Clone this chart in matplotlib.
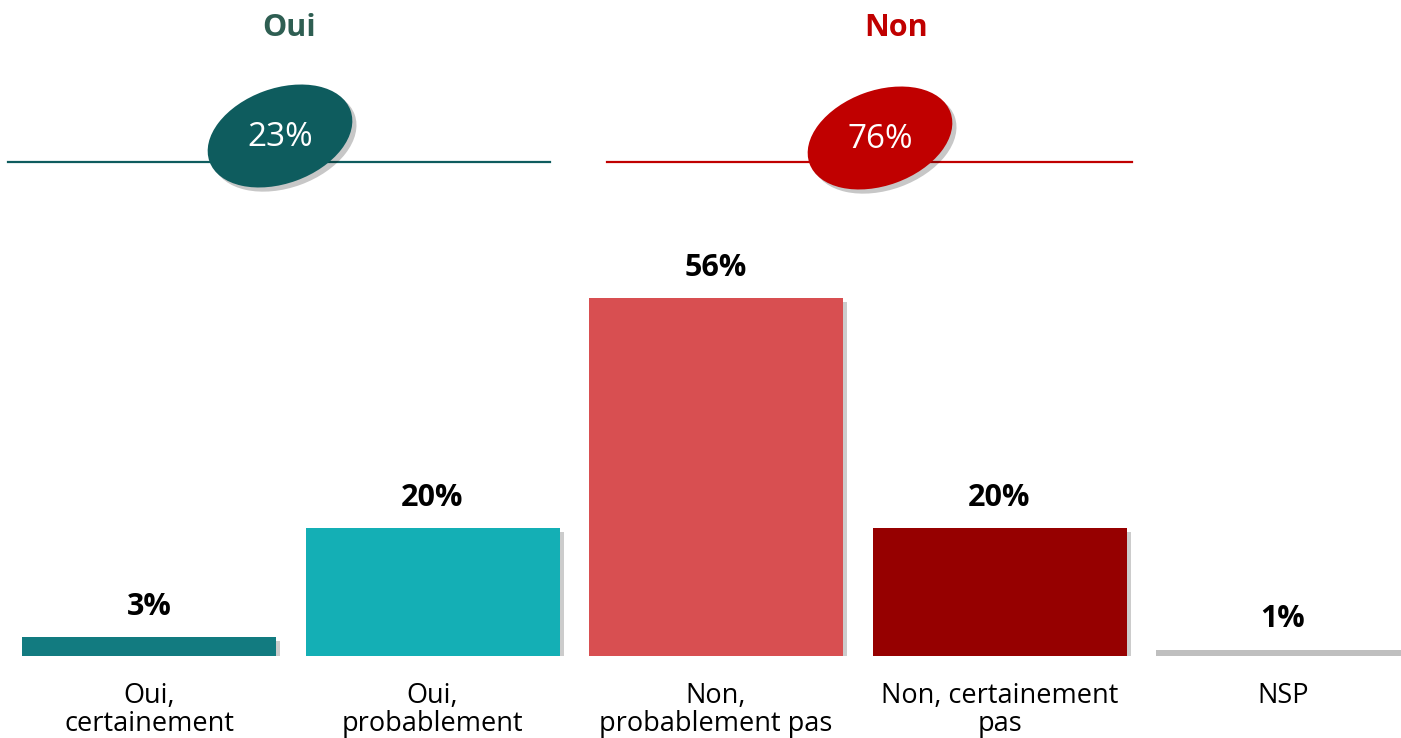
import matplotlib.pyplot as plt
from matplotlib.patches import Ellipse
import matplotlib.patheffects as pe

categories = ['Oui,\ncertainement', 'Oui,\nprobablement', 'Non,\nprobablement pas',
              'Non, certainement\npas', 'NSP']
values = [3, 20, 56, 20, 1]
colors = ['#127B80', '#14AFB5', '#D84F51', '#960000', '#BFBFBF']

groups = ['Oui', 'Non']
group_totals = [23, 76]
group_colors = ['#0E5C5E', '#C00000']
group_title_colors = ['#2E5E52', '#C00000']

plt.rcParams['font.family'] = ['Open Sans', 'DejaVu Sans']

fig = plt.figure(figsize=(14.01, 7.38), dpi=100)

# bar axes: baseline at y=656 px
ax = fig.add_axes([0, 82 / 738, 1, 656 / 738])
ax.patch.set_visible(False)
x = range(len(values))
shadow = [pe.SimplePatchShadow(offset=(3, -3), shadow_rgbFace='#000000', alpha=0.2), pe.Normal()]
bars = ax.bar(x, values, width=0.896, color=colors, zorder=2)
for b in bars:
    b.set_path_effects(shadow)
for i, v in enumerate(values):
    ax.annotate(f'{v}%', (i, v), xytext=(0, 16), textcoords='offset points',
                ha='center', va='baseline', fontsize=22, fontweight='bold', color='black')
ax.set_xlim(-0.5256, 4.416)
ax.set_ylim(0, 102.7)
ax.set_xticks(list(x))
ax.set_xticklabels(categories, fontsize=19.5, linespacing=0.98)
ax.tick_params(axis='x', length=0, pad=19)
ax.set_yticks([])
for s in ax.spines.values():
    s.set_visible(False)

# header overlay in pixel coords (y inverted)
ov = fig.add_axes([0, 0, 1, 1])
ov.patch.set_visible(False)
ov.set_xlim(0, 1401)
ov.set_ylim(738, 0)
ov.axis('off')
line_spans = [(8, 550), (607, 1132)]
centers = [(280, 136), (880, 138)]
title_x = [289, 896]
for g, tot, c, tc, span, cen, tx in zip(groups, group_totals, group_colors,
                                         group_title_colors, line_spans, centers, title_x):
    ov.plot(span, [162, 162], color=c, lw=1.6, zorder=1)
    e = Ellipse(cen, 150, 95, angle=-20, facecolor=c, edgecolor='none', zorder=2)
    e.set_path_effects([pe.SimplePatchShadow(offset=(3, -3), shadow_rgbFace='#000000', alpha=0.22),
                        pe.Normal()])
    ov.add_patch(e)
    ov.text(cen[0], cen[1] + 2, f'{tot}%', ha='center', va='center', fontsize=24,
            color='white', zorder=3)
    ov.text(tx, 28, g, ha='center', va='center', fontsize=22, fontweight='bold', color=tc)

fig.savefig('out.png', dpi=100)
